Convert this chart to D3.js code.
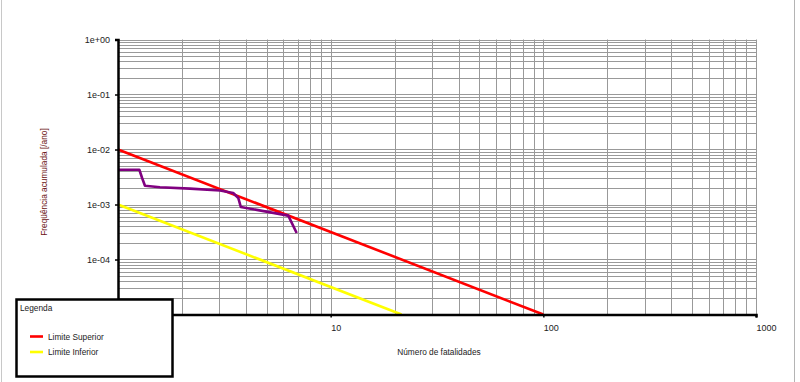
<!DOCTYPE html>
<html>
<head>
<meta charset="utf-8">
<script src="https://cdn.jsdelivr.net/npm/d3@7"></script>
<style>
  body { margin: 0; background: #fff; }
  svg { display: block; font-family: "Liberation Sans", Arial, sans-serif; }
</style>
</head>
<body>
<div id="chart"></div>
<script>
// F-N curve data
const superiorN = [1, 100];
const superiorF = [1e-2, 1e-5];
const inferiorN = [1, 21.54];
const inferiorF = [1e-3, 1e-5];
const curveN = [1, 1.26, 1.297, 1.339, 1.575, 2.18, 3.02, 3.48, 3.68, 3.78, 6.32, 6.92];
const curveF = [4.28e-3, 4.28e-3, 3.06e-3, 2.19e-3, 2.06e-3, 1.94e-3, 1.80e-3, 1.62e-3, 1.31e-3, 9.0e-4, 6.27e-4, 3.04e-4];
const xTicks = [1, 10, 100, 1000];
const yTicks = [1, 1e-1, 1e-2, 1e-3, 1e-4, 1e-5];
const yTickLabels = ["1e+00", "1e-01", "1e-02", "1e-03", "1e-04", "1e-05"];
const legendLabels = ["Limite Superior", "Limite Inferior"];

const width = 800;
const height = 382;
const margin = { top: 39.5, bottom: 67.5, left: 118, right: 44 };

const svg = d3.select('#chart')
  .append('svg')
  .attr('width', width)
  .attr('height', height);

// window frame
svg.append('line').attr('x1', 1.5).attr('x2', 1.5).attr('y1', 0).attr('y2', height)
  .attr('stroke', '#c8c8c8');
svg.append('line').attr('x1', 794.5).attr('x2', 794.5).attr('y1', 0).attr('y2', height)
  .attr('stroke', '#b4b4b4');

const x = d3.scaleLog()
  .domain([1, 1000])
  .range([margin.left, width - margin.right]);

const y = d3.scaleLog()
  .domain([1e-5, 1])
  .range([height - margin.bottom, margin.top]);

// grid lines (minor + major)
const xGrid = [];
for (let d = 1; d < 1000; d *= 10) for (let k = 1; k <= 9; k++) xGrid.push(d * k);
xGrid.push(1000);
const yGrid = [];
for (let d = 1e-5; d < 0.5; d *= 10) for (let k = 1; k <= 9; k++) yGrid.push(d * k);
yGrid.push(1);

const grid = svg.append('g').attr('stroke', '#999').attr('stroke-width', 1);
grid.selectAll('.gx').data(xGrid).join('line')
  .attr('x1', d => Math.round(x(d)) + 0.5).attr('x2', d => Math.round(x(d)) + 0.5)
  .attr('y1', y(1)).attr('y2', y(1e-5));
grid.selectAll('.gy').data(yGrid).join('line')
  .attr('y1', d => Math.round(y(d)) + 0.5).attr('y2', d => Math.round(y(d)) + 0.5)
  .attr('x1', x(1)).attr('x2', x(1000));

// series
const line = d3.line().x(d => x(d[0])).y(d => y(d[1]));
const series = [
  { n: superiorN, f: superiorF, color: '#ff0000' },
  { n: inferiorN, f: inferiorF, color: '#ffff00' },
  { n: curveN, f: curveF, color: '#800080' }
];
svg.append('g').selectAll('path').data(series).join('path')
  .attr('d', s => line(s.n.map((v, i) => [v, s.f[i]])))
  .attr('fill', 'none')
  .attr('stroke', s => s.color)
  .attr('stroke-width', 2.6)
  .attr('stroke-linejoin', 'round');

// axes
function yAxis(g) {
  g.attr('transform', `translate(${margin.left}, 0)`)
    .call(d3.axisLeft(y).tickValues(yTicks).tickFormat((d, i) => yTickLabels[i]).tickSize(3).tickPadding(5))
    .attr('font-size', '9px')
    .attr('font-family', '"Liberation Sans", Arial, sans-serif');
  g.select('.domain').attr('stroke-width', 2.5);
  g.selectAll('.tick line').attr('stroke-width', 1.5);
  g.selectAll('.tick text').attr('fill', '#222');
}

function xAxis(g) {
  g.attr('transform', `translate(0,${height - margin.bottom})`)
    .call(d3.axisBottom(x).tickValues(xTicks).tickFormat(d3.format('d')).tickSize(3).tickPadding(7))
    .attr('font-size', '9px')
    .attr('font-family', '"Liberation Sans", Arial, sans-serif');
  g.select('.domain').attr('stroke-width', 2.5);
  g.selectAll('.tick line').attr('stroke-width', 1.5);
  g.selectAll('.tick text').attr('text-anchor', 'start').attr('fill', '#222');
}

svg.append('g').call(xAxis);
svg.append('g').call(yAxis);

svg.append('text')
  .attr('text-anchor', 'middle')
  .attr('x', 439)
  .attr('y', 355)
  .attr('font-size', '8.3px')
  .attr('fill', '#222')
  .text('Número de fatalidades');

svg.append('text')
  .attr('text-anchor', 'middle')
  .attr('transform', 'translate(47,182) rotate(-90)')
  .attr('font-size', '8.3px')
  .attr('fill', '#6a1010')
  .text('Freqüência acumulada [/ano]');

// legend
const legend = svg.append('g');
legend.append('rect')
  .attr('x', 16.5).attr('y', 299.5).attr('width', 156).attr('height', 77)
  .attr('fill', '#fff').attr('stroke', '#000').attr('stroke-width', 2.5);
legend.append('text')
  .attr('x', 20).attr('y', 311)
  .attr('font-size', '8.3px').attr('fill', '#222')
  .text('Legenda');
const items = legend.selectAll('.item').data(legendLabels).join('g')
  .attr('transform', (d, i) => `translate(30, ${336.5 + i * 15.5})`);
items.append('line')
  .attr('x1', 0).attr('x2', 13)
  .attr('stroke', (d, i) => series[i].color)
  .attr('stroke-width', 2.6);
items.append('text')
  .attr('x', 18).attr('y', 3)
  .attr('font-size', '8.3px').attr('fill', '#222')
  .text(d => d);
</script>
</body>
</html>
